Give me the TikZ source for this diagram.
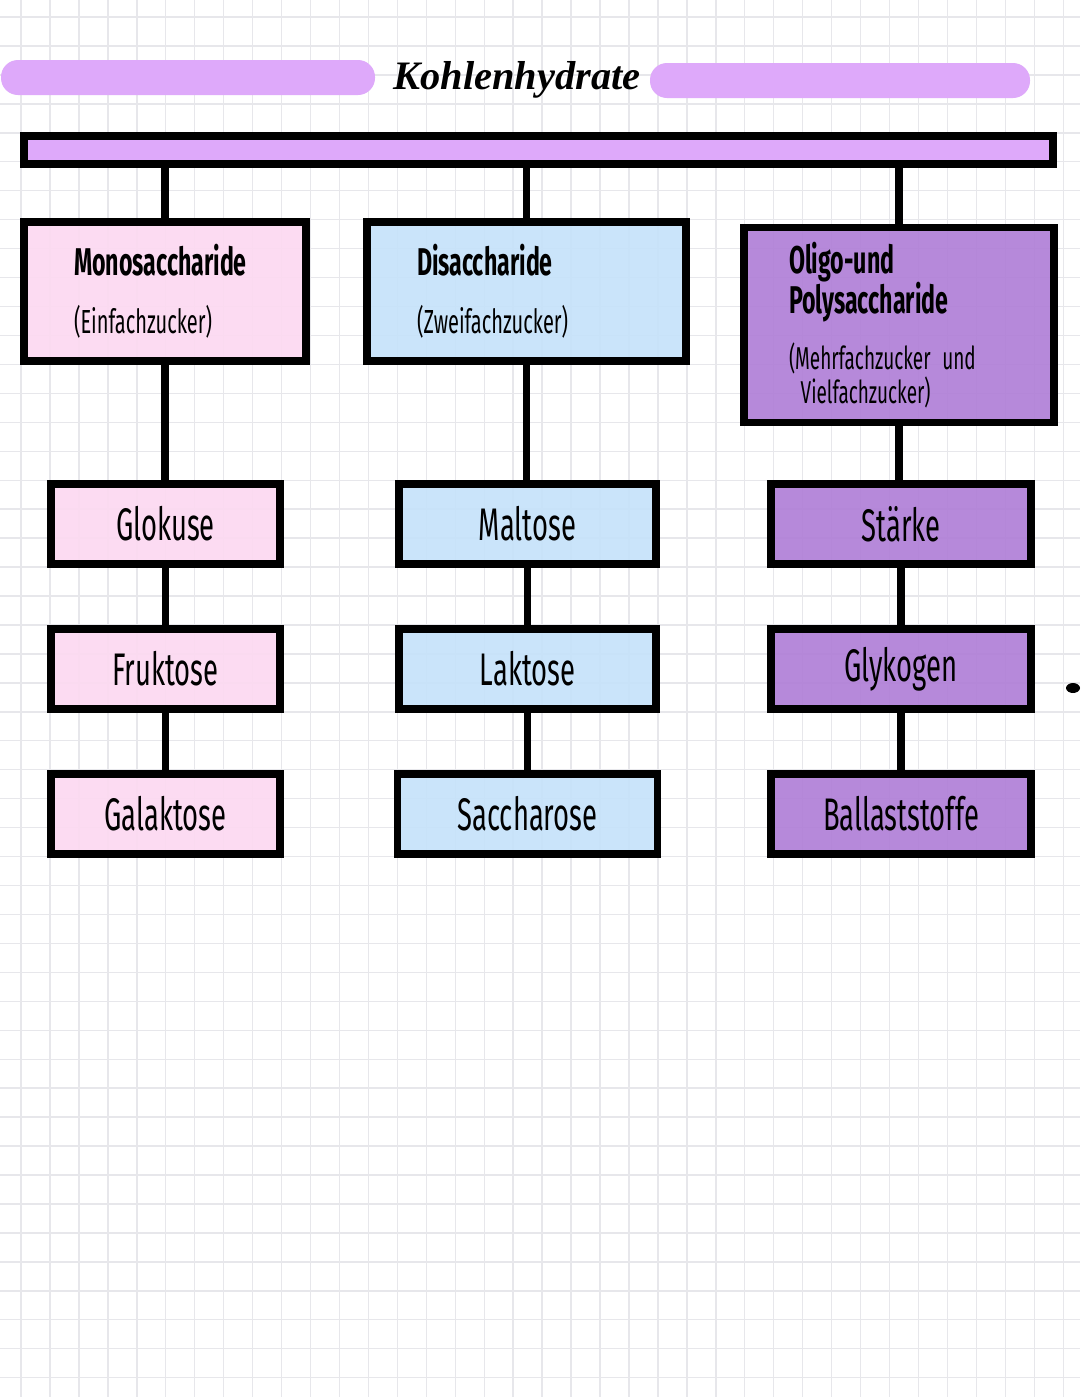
\documentclass[tikz,border=0pt]{standalone}
\usepackage{fontspec}
\setmainfont{Fira Sans}
\newfontfamily\handfont[FakeStretch=0.6]{Fira Sans}
\newfontfamily\subfont[FakeStretch=0.6]{Fira Sans}
\newfontfamily\headfont[FakeStretch=0.6]{Fira Sans}
\newfontfamily\titlefont{Liberation Serif}
\usepackage{xcolor}
\usepackage{tikz}

\definecolor{lavender}{HTML}{DEA9FA}
\definecolor{monopink}{HTML}{FCD9F1}
\definecolor{diblue}{HTML}{C6E2FA}
\definecolor{polypurple}{HTML}{B07FD7}
\definecolor{gridgray}{HTML}{E7E7EB}

\newcommand{\headtitle}{\headfont\bfseries\fontsize{22}{19}\selectfont}
\newcommand{\headsub}{\subfont\mdseries\fontsize{19}{19}\selectfont}
\newcommand{\polysub}{\subfont\mdseries\fontsize{18}{19}\selectfont}

\begin{document}
\begin{tikzpicture}[
        x=0.02cm, y=-0.02cm,
        declare function={
            colA = 165.5;
            colB = 527.5;
            colC = 901;
            rowA = 524;
            rowB = 669;
            rowC = 814;
            cell = 28.95;
        },
        gridline/.style={gridgray, line width=0.8pt},
        thickline/.style={line width=4.5pt},
        box/.style={draw=black, line width=4.5pt, minimum height=1.6cm, inner sep=0pt,
            fill opacity=0.92, text opacity=1, font=\handfont\fontsize{26}{28}\selectfont},
        headbox/.style={draw=black, line width=4.5pt, inner xsep=1cm, inner ysep=0pt,
            align=left, fill opacity=0.92, text opacity=1, font=\fontsize{20}{19}\selectfont,
            execute at begin node={\lineskiplimit=-50pt}},
    ]

        \useasboundingbox (0,0) rectangle (1080,1397);
        \fill[white] (0,0) rectangle (1080,1397);

        % squared paper
        \foreach \gx in {0,...,36}
            \draw[gridline] ({21+cell*\gx},0) -- ({21+cell*\gx},1397);
        \foreach \gy in {0,...,47}
            \draw[gridline] (0,{17+cell*\gy}) -- (1080,{17+cell*\gy});

        % title
        \fill[lavender, rounded corners=0.34cm] (1,60) rectangle (375,95);
        \fill[lavender, rounded corners=0.34cm] (650,63) rectangle (1030,98);
        \node (title) at (517,80) {\titlefont\bfseries\itshape\fontsize{23}{26}\selectfont Kohlenhydrate};

        \node[draw=black, fill=lavender, line width=4.5pt, minimum width=20.6cm, minimum height=0.56cm, inner sep=0pt] (bar) at (538.5,150) {};

        % groups
        \node[headbox, fill=monopink, minimum width=5.64cm, minimum height=2.78cm, text width=3.64cm] (mono) at (165,291.5)
            {\headtitle Monosaccharide\\[0.5cm]\headsub (Einfachzucker)};
        \node[headbox, fill=diblue, minimum width=6.38cm, minimum height=2.78cm, text width=4.38cm] (di) at (526.5,291.5)
            {\headtitle Disaccharide\\[0.5cm]\headsub (Zweifachzucker)};
        \node[headbox, fill=polypurple, minimum width=6.2cm, minimum height=3.9cm, text width=4.4cm, inner xsep=0.9cm] (poly) at (899,325)
            {\headtitle Oligo-und\\[4pt]Polysaccharide\\[0.45cm]\polysub (Mehrfachzucker und\\\ Vielfachzucker)};

        % members
        \node[box, fill=monopink, minimum width=4.58cm] (glu) at (colA,rowA) {Glokuse};
        \node[box, fill=monopink, minimum width=4.58cm] (fru) at (colA,rowB) {Fruktose};
        \node[box, fill=monopink, minimum width=4.58cm] (gal) at (colA,rowC) {Galaktose};

        \node[box, fill=diblue, minimum width=5.14cm] (mal) at (colB,rowA) {Maltose};
        \node[box, fill=diblue, minimum width=5.14cm] (lak) at (colB,rowB) {Laktose};
        \node[box, fill=diblue, minimum width=5.2cm] (sac) at (colB,rowC) {Saccharose};

        \node[box, fill=polypurple, minimum width=5.2cm] (sta) at (colC,rowA) {Stärke};
        \node[box, fill=polypurple, minimum width=5.2cm] (gly) at (colC,rowB) {Glykogen};
        \node[box, fill=polypurple, minimum width=5.2cm] (bal) at (colC,rowC) {Ballaststoffe};

        % connectors
        \draw[thickline] (bar.south -| mono) -- (mono);
        \draw[thickline] (bar.south -| di) -- (di);
        \draw[thickline] (bar.south -| poly) -- (poly);

        \draw[thickline] (mono) -- (mono |- glu.north);
        \draw[thickline] (glu) -- (fru);
        \draw[thickline] (fru) -- (gal);

        \draw[thickline] (di) -- (di |- mal.north);
        \draw[thickline] (mal) -- (lak);
        \draw[thickline] (lak) -- (sac);

        \draw[thickline] (poly) -- (poly |- sta.north);
        \draw[thickline] (sta) -- (gly);
        \draw[thickline] (gly) -- (bal);

        \fill (1073,688) ellipse [x radius=0.14cm, y radius=0.1cm];
    \end{tikzpicture}
\end{document}
